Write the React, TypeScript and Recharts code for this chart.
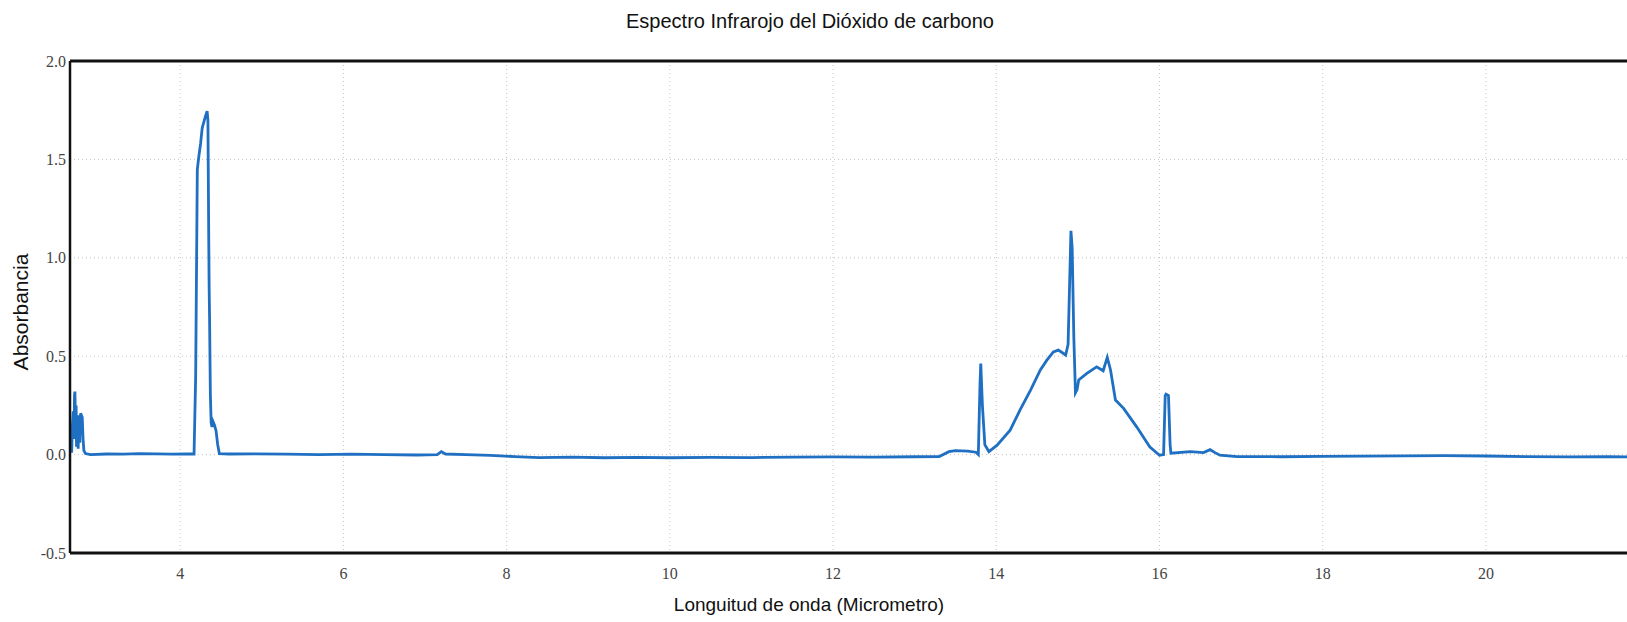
import React from "react";
import { LineChart, Line, XAxis, YAxis, CartesianGrid, ReferenceLine } from "recharts";

const title = "Espectro Infrarojo del Dióxido de carbono";
const xLabel = "Longuitud de onda (Micrometro)";
const yLabel = "Absorbancia";

const xTicks = [4, 6, 8, 10, 12, 14, 16, 18, 20];
const yTicks = [-0.5, 0, 0.5, 1.0, 1.5, 2.0];

const wavelength = [
  2.65, 2.66, 2.67, 2.68, 2.69, 2.7, 2.705, 2.71, 2.72, 2.725, 2.73, 2.74, 2.75, 2.76, 2.77, 2.78, 2.79, 2.8, 2.81, 2.82, 2.84,
  2.9, 3.1, 3.3, 3.5, 3.7, 3.9, 4.1, 4.17, 4.19, 4.21, 4.23, 4.25, 4.27, 4.29, 4.31, 4.33, 4.34, 4.35, 4.355, 4.36, 4.37,
  4.38, 4.39, 4.4, 4.42, 4.44, 4.46, 4.48, 4.6, 4.9, 5.3, 5.7, 6.1, 6.5, 6.9, 7.15, 7.2, 7.25, 7.5, 7.8, 8.1, 8.4, 8.8,
  9.2, 9.6, 10.0, 10.5, 11.0, 11.5, 12.0, 12.5, 13.0, 13.3, 13.42, 13.5, 13.65, 13.75, 13.78, 13.8, 13.81, 13.83, 13.86,
  13.91, 14.01, 14.17, 14.29, 14.42, 14.54, 14.62, 14.7, 14.76, 14.82, 14.85, 14.88, 14.915, 14.93, 14.95, 14.97, 14.99,
  15.01, 15.11, 15.23, 15.31, 15.36, 15.4, 15.46, 15.56, 15.72, 15.88, 16.0, 16.05, 16.07, 16.08, 16.11, 16.13, 16.14,
  16.38, 16.54, 16.62, 16.68, 16.74, 16.95, 17.5, 18.0, 18.5, 19.0, 19.5, 20.0, 20.5, 21.0, 21.5, 21.9,
];

const absorbance = [
  0.02, 0.06, 0.01, 0.15, 0.22, 0.08, 0.3, 0.32, 0.12, 0.25, 0.04, 0.18, 0.03, 0.2, 0.06, 0.21, 0.2, 0.19, 0.08, 0.02, 0.005,
  0.0, 0.003, 0.002, 0.005, 0.004, 0.002, 0.003, 0.003, 0.4, 1.45, 1.52, 1.58, 1.66, 1.69, 1.72, 1.745, 1.7, 1.1, 0.85, 0.7, 0.3,
  0.16, 0.14, 0.17, 0.15, 0.12, 0.05, 0.005, 0.003, 0.004, 0.002, 0.0, 0.002, 0.0, -0.002, 0.0, 0.015, 0.003, 0.0, -0.004, -0.01, -0.015, -0.013,
  -0.016, -0.014, -0.016, -0.014, -0.015, -0.013, -0.012, -0.013, -0.011, -0.01, 0.015, 0.02, 0.018, 0.012, 0.0, 0.35, 0.463, 0.25, 0.05,
  0.015, 0.048, 0.124, 0.226, 0.328, 0.43, 0.48, 0.522, 0.531, 0.515, 0.506, 0.56, 1.137, 1.05, 0.6, 0.314, 0.33,
  0.379, 0.413, 0.446, 0.426, 0.494, 0.43, 0.277, 0.235, 0.141, 0.04, -0.003, 0.0, 0.3, 0.307, 0.3, 0.05, 0.007,
  0.015, 0.01, 0.025, 0.01, -0.003, -0.01, -0.011, -0.009, -0.008, -0.006, -0.005, -0.007, -0.01, -0.012, -0.011, -0.012,
];

const data = wavelength.map((x, i) => ({ x, y: absorbance[i] }));

const tickStyle = { fontFamily: "'Liberation Serif', 'DejaVu Serif', serif", fontSize: 16, fill: "#444" };
const labelFont = "'Liberation Sans', Arial, sans-serif";

export default function App() {
  return (
    <div
      style={{
        position: "fixed",
        left: 0,
        top: 0,
        width: 1627,
        height: 622,
        overflow: "hidden",
        background: "#fff",
      }}
    >
      <div
        style={{
          position: "absolute",
          left: 0,
          width: 1620,
          top: 9,
          textAlign: "center",
          fontFamily: labelFont,
          fontSize: 20,
          color: "#111",
          lineHeight: "24px",
        }}
      >
        {title}
      </div>
      <div
        style={{
          position: "absolute",
          left: 0,
          width: 1618,
          top: 593,
          textAlign: "center",
          fontFamily: labelFont,
          fontSize: 19,
          color: "#111",
          lineHeight: "24px",
        }}
      >
        {xLabel}
      </div>
      <div
        style={{
          position: "absolute",
          left: 21,
          top: 312,
          transform: "translate(-50%, -50%) rotate(-90deg)",
          fontFamily: labelFont,
          fontSize: 21,
          color: "#111",
          whiteSpace: "nowrap",
          lineHeight: "24px",
        }}
      >
        {yLabel}
      </div>
      <div style={{ position: "absolute", left: 0, top: 0 }}>
        <LineChart width={1641} height={622} data={data} margin={{ top: 61, right: 0, bottom: 39, left: 0 }}>
          <CartesianGrid stroke="#c4c4c4" strokeDasharray="1 3" />
          <XAxis
            type="number"
            dataKey="x"
            domain={[2.65, 21.9]}
            ticks={xTicks}
            allowDataOverflow
            height={30}
            tickLine={false}
            tickSize={0}
            tickMargin={15}
            axisLine={{ stroke: "#111", strokeWidth: 3 }}
            tick={tickStyle}
          />
          <YAxis
            type="number"
            domain={[-0.5, 2.0]}
            ticks={yTicks}
            allowDataOverflow
            width={70}
            tickLine={false}
            tickSize={0}
            tickMargin={4}
            axisLine={{ stroke: "#111", strokeWidth: 2.5 }}
            tick={tickStyle}
            tickFormatter={(v: number) => v.toFixed(1)}
          />
          <ReferenceLine y={2.0} stroke="#111" strokeWidth={3} />
          <Line
            type="linear"
            dataKey="y"
            stroke="#1f6fc2"
            strokeWidth={2.8}
            dot={false}
            isAnimationActive={false}
          />
        </LineChart>
      </div>
    </div>
  );
}
